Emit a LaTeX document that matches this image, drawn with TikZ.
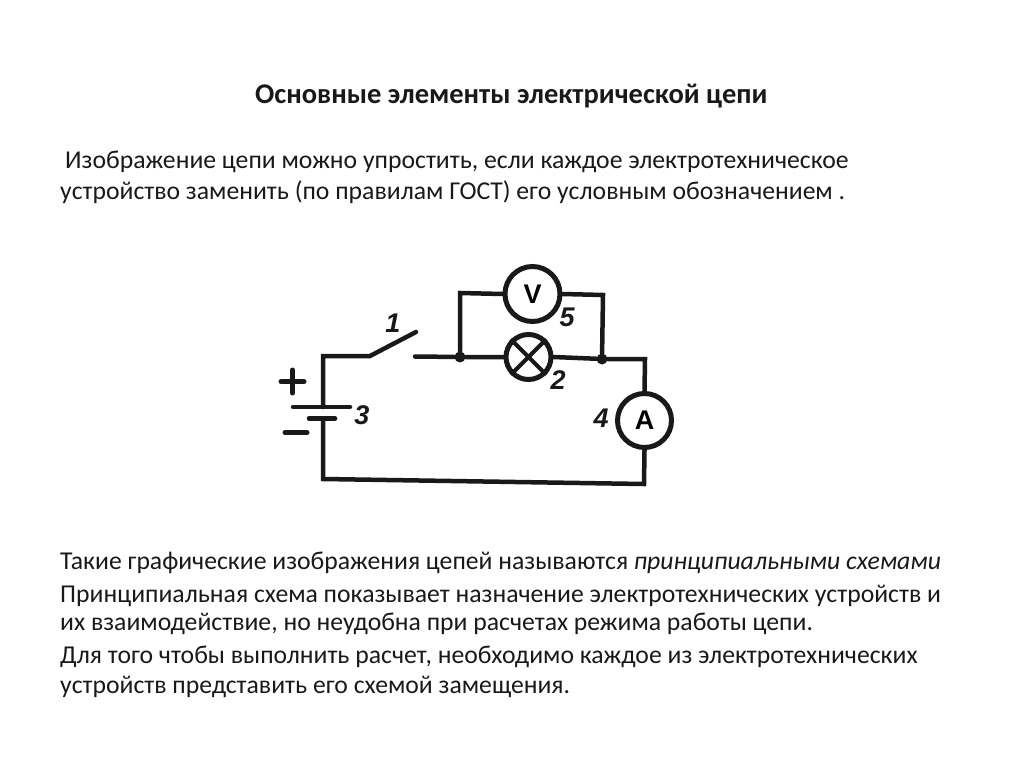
\documentclass[tikz,border=0pt]{standalone}
\usepackage{fontspec}
\setmainfont{Carlito}
\newfontfamily\numfont{Liberation Sans}
\tikzset{
  x=1pt,y=-1pt,
  txt/.style={anchor=base west,inner sep=0pt,font=\fontsize{25.7}{30}\selectfont,text=black!90},
  wire/.style={line width=4.5pt,line join=miter,line cap=round,black!90},
  meter/.style={circle,draw=black!90,line width=5pt,minimum size=54pt,inner sep=0pt,fill=white,font=\numfont\bfseries\fontsize{27}{30}\selectfont},
  dotj/.style={circle,fill=black!90,minimum size=11pt,inner sep=0pt},
  lbl/.style={inner sep=0pt,font=\numfont\bfseries\itshape\fontsize{27}{30}\selectfont,text=black!90},
  sgn/.style={line width=5pt,black!90,line cap=round},
}
\begin{document}
\begin{tikzpicture}
\useasboundingbox (0,0) rectangle (1024,767);
\node[txt,font=\bfseries\fontsize{28.5}{32}\selectfont] (title) at (255,104) {Основные элементы электрической цепи};
\node[txt] (p1) at (65,169) {Изображение цепи можно упростить, если каждое электротехническое};
\node[txt] (p2) at (60,200) {устройство заменить (по правилам ГОСТ) его условным обозначением .};
\node[txt] (p3) at (60,569.5) {Такие графические изображения цепей называются \textit{принципиальными схемами}};
\node[txt] (p4) at (60,602.5) {Принципиальная схема показывает назначение электротехнических устройств и};
\node[txt] (p5) at (60,630) {их взаимодействие, но неудобна при расчетах режима работы цепи.};
\node[txt] (p6) at (60,663) {Для того чтобы выполнить расчет, необходимо каждое из электротехнических};
\node[txt] (p7) at (60,693) {устройств представить его  схемой замещения.};

\node[meter,minimum size=55pt] (V) at (532.5,294) {V};
\node[meter,minimum size=45pt] (L) at (528.5,357) {};
\node[meter] (A) at (644.5,420.5) {A};
\node[dotj] (j1) at (460,357) {};
\node[dotj] (j2) at (602,359) {};
\coordinate (sw1) at (370,356);
\coordinate (sw2) at (416,332);
\coordinate (ct) at (415,356.5);
\coordinate (tl) at (323,356);
\coordinate (bl) at (323,479);
\coordinate (br) at (644,484);
\coordinate (tr) at (645,359);
\coordinate (vl) at (460,293);
\coordinate (vr) at (603,295);
\coordinate (pl1) at (293,407);
\coordinate (pl2) at (350,407);
\coordinate (ps1) at (309,418.5);
\coordinate (ps2) at (335,418.5);
\coordinate (pltop) at (323,407);
\coordinate (psbot) at (323,418.5);

\draw[wire] (pltop) -- (tl) -- (sw1) -- (sw2);
\draw[wire] (pl1) -- (pl2);
\draw[wire] (ps1) -- (ps2);
\draw[wire] (psbot) -- (bl) -- (br) -- (A.south);
\draw[wire] (ct) -- (j1) -- (L.west);
\draw[wire] (L.east) -- (j2) -- (tr) -- (A.north);
\draw[wire] (j1) -- (vl) -- (V.west);
\draw[wire] (V.east) -- (vr) -- (j2);
\draw[line width=4pt,black!90] (L.45) -- (L.225) (L.135) -- (L.315);

\draw[sgn] (281,381.5) -- (304,381.5) (292.5,370) -- (292.5,393);
\draw[sgn] (285,432.5) -- (307,432.5);
\node[lbl] (n1) at (393,323) {1};
\node[lbl] (n5) at (567,317) {5};
\node[lbl] (n2) at (558,380) {2};
\node[lbl] (n3) at (362,415) {3};
\node[lbl] (n4) at (601,418) {4};
\end{tikzpicture}
\end{document}
